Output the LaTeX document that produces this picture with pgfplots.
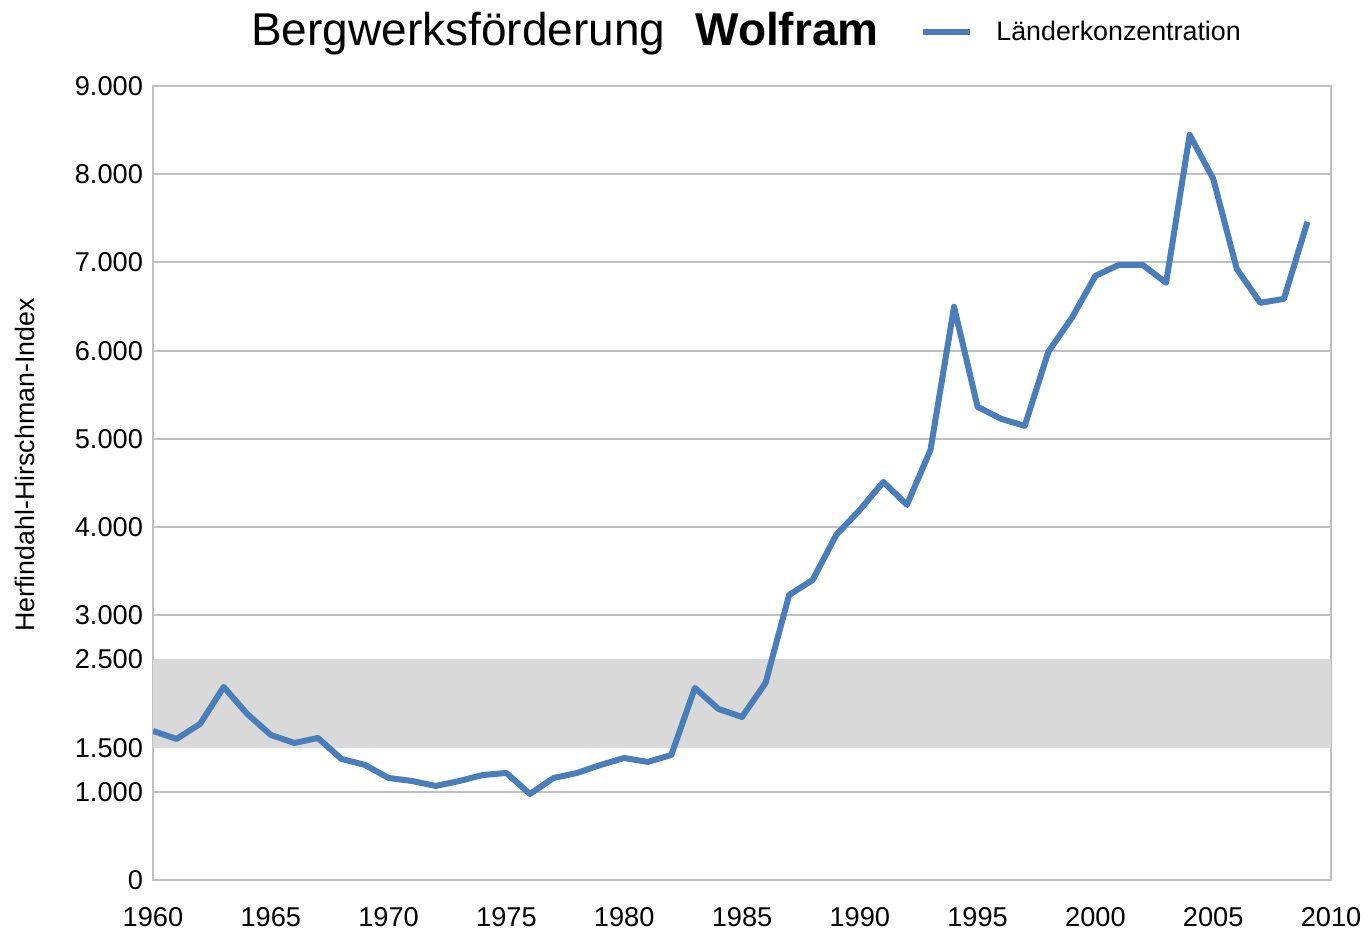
\documentclass[border=0pt]{standalone}
\usepackage{pgfplots}
\pgfplotsset{compat=1.18}
\usepackage{fontspec}
\setmainfont{Liberation Sans}
\definecolor{lineblue}{HTML}{4A7EBB}
\definecolor{bandgray}{HTML}{D9D9D9}
\definecolor{gridgray}{HTML}{C0C0C0}
\begin{document}
\begin{tikzpicture}
\begin{axis}[
  scale only axis, width=589pt, height=397pt,
  xmin=1960, xmax=2010, ymin=0, ymax=9000,
  xtick={1960,1965,...,2010},
  ytick={0,1000,3000,4000,5000,6000,7000,8000,9000},
  extra y ticks={1500,2500},
  extra y tick style={grid=none},
  ymajorgrids,
  major grid style={gridgray, line width=1pt},
  axis line style={gridgray, line width=1pt},
  major tick length=0pt,
  tick style={draw=none},
  scaled y ticks=false,
  /pgf/number format/assume math mode=true,
  /pgf/number format/1000 sep={.},
  xticklabel style={/pgf/number format/1000 sep={}, yshift=-10pt},
  yticklabel style={xshift=-1.5pt},
  ticklabel style={font=\fontsize{13.6}{16}\selectfont},
  title={Bergwerksförderung\hspace{0.65em}\textbf{Wolfram}},
  title style={font=\fontsize{23}{27}\selectfont, at={(axis description cs:0.3497,1.0353)}, anchor=base},
  ylabel={Herfindahl-Hirschman-Index},
  ylabel style={font=\fontsize{13.4}{16}\selectfont, at={(axis description cs:-0.1087,0.5227)}, anchor=center},
  legend style={draw=none, fill=none, font=\fontsize{13.4}{16}\selectfont, at={(axis description cs:0.6511,1.068)}, anchor=west, inner sep=0pt},
  legend cell align=left,
  legend image code/.code={\draw[#1] (0pt,0pt) -- (23.5pt,0pt); \path[draw=none] (0pt,0pt) -- (34.5pt,0pt);},
]
\addplot[fill=bandgray, draw=none, forget plot] coordinates {(1960,1500) (2010,1500) (2010,2500) (1960,2500)} -- cycle;
\addplot[lineblue, line width=3pt, line join=round] table {
x y
1960 1689
1961 1599
1962 1769
1963 2188
1964 1882
1965 1644
1966 1553
1967 1610
1968 1372
1969 1304
1970 1156
1971 1122
1972 1066
1973 1122
1974 1190
1975 1213
1976 975
1977 1156
1978 1213
1979 1304
1980 1383
1981 1338
1982 1417
1983 2177
1984 1939
1985 1848
1986 2234
1987 3231
1988 3401
1989 3912
1990 4195
1991 4512
1992 4252
1993 4875
1994 6497
1995 5363
1996 5227
1997 5147
1998 5986
1999 6372
2000 6848
2001 6973
2002 6973
2003 6769
2004 8447
2005 7948
2006 6927
2007 6542
2008 6587
2009 7460
};
\addlegendentry{Länderkonzentration}
\end{axis}
\pgfresetboundingbox
\path[use as bounding box] ([shift={(-76.5pt,-26pt)}]current axis.south west) rectangle ([shift={(18.5pt,43pt)}]current axis.north east);
\end{tikzpicture}
\end{document}
